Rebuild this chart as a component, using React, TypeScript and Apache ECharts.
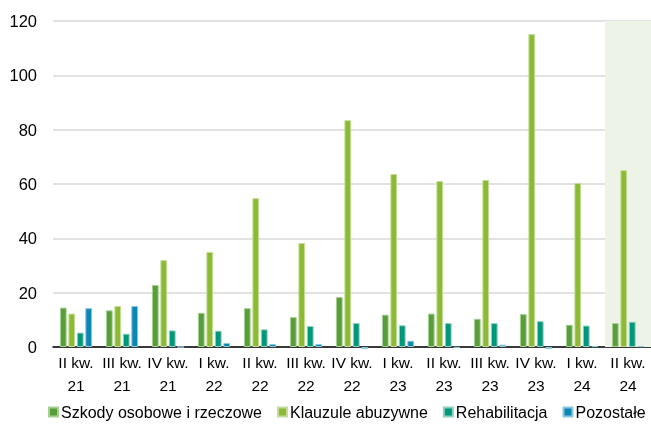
import React, { useEffect, useRef } from "react";
import * as echarts from "echarts";

const categories = [
  "II kw.\n21", "III kw.\n21", "IV kw.\n21", "I kw.\n22", "II kw.\n22", "III kw.\n22",
  "IV kw.\n22", "I kw.\n23", "II kw.\n23", "III kw.\n23", "IV kw.\n23", "I kw.\n24", "II kw.\n24",
];
const szkody = [14.5, 13.5, 22.8, 12.6, 14.3, 11.0, 18.4, 11.9, 12.3, 10.4, 12.1, 8.2, 8.8];
const klauzule = [12.3, 15.1, 32.0, 35.0, 54.8, 38.3, 83.5, 63.7, 61.1, 61.5, 115.2, 60.4, 65.1];
const rehabilitacja = [5.3, 4.9, 6.1, 6.0, 6.5, 7.7, 8.8, 8.0, 8.8, 8.8, 9.5, 7.9, 9.3];
const pozostale = [14.3, 15.1, 0, 1.5, 1.1, 1.1, -0.7, 2.3, -0.3, 0.85, -0.7, 0.3, 0.3];
const shade = [null, null, null, null, null, null, null, null, null, null, null, null, 120];
const yTicks = { min: 0, max: 120, interval: 20 };

const FONT = "'Liberation Sans', Arial, sans-serif";

export default function App() {
  const ref = useRef<HTMLDivElement>(null);
  useEffect(() => {
    const chart = echarts.init(ref.current!, null, { renderer: "svg" });
    const mk = (name: string, data: number[], color: string, border: string) => ({
      name,
      type: "bar",
      data,
      clip: false,
      barGap: "25%",
      barCategoryGap: "30%",
      itemStyle: { color, borderColor: border, borderWidth: 1 },
      z: 3,
    });
    chart.setOption({
      animation: false,
      textStyle: { fontFamily: FONT },
      grid: { left: 53, right: 0, top: 21, bottom: 80, containLabel: false, outerBoundsMode: "none" },
      legend: {
        bottom: 2,
        left: 43,
        width: 640,
        itemWidth: 9,
        itemHeight: 9,
        itemGap: 15,
        icon: "rect",
        textStyle: { fontFamily: FONT, fontSize: 16, color: "#000", padding: [0, 0, 0, -2] },
        data: ["Szkody osobowe i rzeczowe", "Klauzule abuzywne", "Rehabilitacja", "Pozostałe"],
      },
      xAxis: [
        {
          type: "category",
          data: categories,
          axisLine: { lineStyle: { color: "#000", width: 1.5 } },
          axisTick: { show: false },
          axisLabel: {
            fontFamily: FONT,
            fontSize: 15.5,
            color: "#000",
            lineHeight: 23,
            margin: 4,
            interval: 0,
            overflow: "none",
          },
        },
        {
          type: "category",
          data: categories,
          show: false,
        },
      ],
      yAxis: {
        type: "value",
        ...yTicks,
        axisLine: { show: false },
        axisTick: { show: false },
        splitLine: { lineStyle: { color: "#d9d9d9", width: 1.5 } },
        axisLabel: { fontFamily: FONT, fontSize: 16.5, color: "#000", margin: 16 },
      },
      series: [
        {
          name: "shade",
          type: "bar",
          xAxisIndex: 1,
          data: shade,
          barWidth: "100%",
          silent: true,
          itemStyle: { color: "#edf4e7" },
          z: 1,
        },
        mk("Szkody osobowe i rzeczowe", szkody, "#579e3a", "#a9cf98"),
        mk("Klauzule abuzywne", klauzule, "#8dba35", "#c5dd9a"),
        mk("Rehabilitacja", rehabilitacja, "#00977a", "#8fd0bd"),
        mk("Pozostałe", pozostale, "#0a88b5", "#8cc7dd"),
      ],
    });
    return () => chart.dispose();
  }, []);
  return (
    <div
      ref={ref}
      style={{ position: "fixed", left: 0, top: 0, width: 651, height: 427 }}
    />
  );
}
